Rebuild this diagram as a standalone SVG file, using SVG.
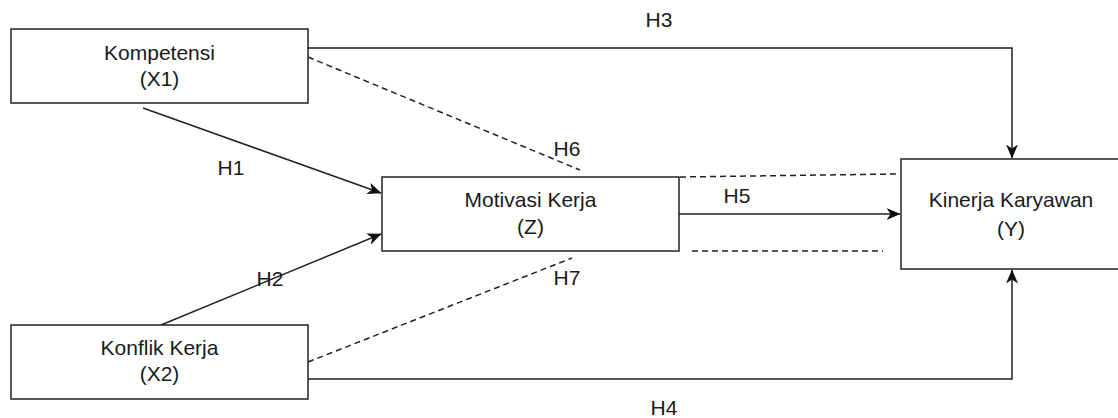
<svg xmlns="http://www.w3.org/2000/svg" width="1118" height="418" viewBox="0 0 1118 418">
<defs>
<style>
.box{fill:#fff;stroke:#222;stroke-width:1.5}
.t{font-family:"Liberation Sans",Arial,sans-serif;font-size:21px;fill:#1a1a1a;text-anchor:middle}
.c{fill:none;stroke:#222;stroke-width:1.5}
.d{fill:none;stroke:#222;stroke-width:1.5;stroke-dasharray:6 4}
</style>
<marker id="arr" viewBox="0 0 14 12" refX="13.5" refY="6" markerWidth="14" markerHeight="12" markerUnits="userSpaceOnUse" orient="auto">
<path d="M0,0 L14,6 L0,12 L4,6 Z" fill="#111"/>
</marker>
</defs>
<rect width="1118" height="418" fill="#fff"/>
<g id="connectors">
<polyline class="c" points="308,48 1012,48 1012,158" marker-end="url(#arr)"/>
<polyline class="c" points="308,379 1012,379 1012,270" marker-end="url(#arr)"/>
<line class="c" x1="143" y1="108" x2="381" y2="193" marker-end="url(#arr)"/>
<line class="c" x1="161" y1="325" x2="381" y2="234" marker-end="url(#arr)"/>
<line class="c" x1="679" y1="214" x2="900" y2="214" marker-end="url(#arr)"/>
<line class="d" x1="308" y1="57" x2="580" y2="170"/>
<line class="d" x1="308" y1="362" x2="572" y2="258"/>
<line class="d" x1="680" y1="177" x2="896" y2="174"/>
<line class="d" x1="692" y1="251" x2="883" y2="251"/>
<text class="t" x="659" y="27">H3</text>
<text class="t" x="664" y="415">H4</text>
<text class="t" x="231" y="175">H1</text>
<text class="t" x="270" y="286">H2</text>
<text class="t" x="737" y="203">H5</text>
<text class="t" x="567" y="156">H6</text>
<text class="t" x="567" y="285">H7</text>
</g>
<g id="x1">
<rect class="box" x="11" y="29" width="297" height="74"/>
<text class="t" x="159.5" y="60">Kompetensi</text>
<text class="t" x="159.5" y="86">(X1)</text>
</g>
<g id="x2">
<rect class="box" x="11" y="325" width="297" height="74"/>
<text class="t" x="159.5" y="355">Konflik Kerja</text>
<text class="t" x="159.5" y="381">(X2)</text>
</g>
<g id="z">
<rect class="box" x="382" y="177" width="297" height="74"/>
<text class="t" x="530.5" y="207">Motivasi Kerja</text>
<text class="t" x="530.5" y="234">(Z)</text>
</g>
<g id="y">
<rect class="box" x="901" y="159" width="222" height="110"/>
<text class="t" x="1011" y="207">Kinerja Karyawan</text>
<text class="t" x="1011" y="236">(Y)</text>
</g>
</svg>
